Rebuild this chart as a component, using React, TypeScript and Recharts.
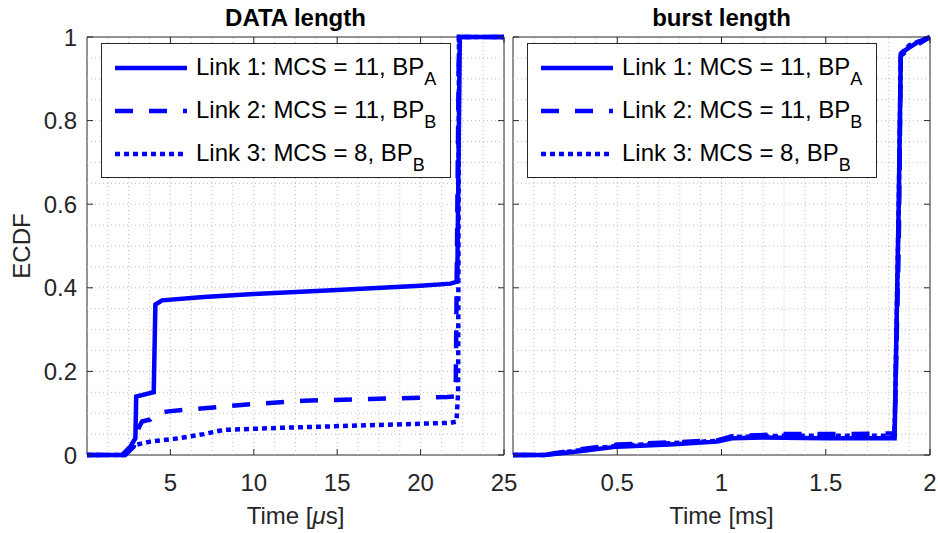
import React from 'react';
import { LineChart, Line, XAxis, YAxis, ReferenceLine, ReferenceArea, Legend } from 'recharts';

const FONT = '"Liberation Sans", Arial, Helvetica, sans-serif';
const INK = '#262626';
const BLUE = '#0000ff';
const GRID = '#bdbdbd';
const PLOT_W = 417;
const PLOT_H = 418;

// DATA length, time in µs
const dataLink1 = [
  { t: 0, p: 0 }, { t: 2.1, p: 0 }, { t: 2.6, p: 0.02 }, { t: 2.9, p: 0.04 }, { t: 2.95, p: 0.14 },
  { t: 4.0, p: 0.15 }, { t: 4.1, p: 0.36 }, { t: 4.5, p: 0.37 }, { t: 7, p: 0.378 }, { t: 10, p: 0.385 },
  { t: 15, p: 0.395 }, { t: 20, p: 0.405 }, { t: 21.8, p: 0.41 }, { t: 22.2, p: 0.415 }, { t: 22.35, p: 1 },
  { t: 25, p: 1 },
];
const dataLink2 = [
  { t: 0, p: 0 }, { t: 2.3, p: 0 }, { t: 2.8, p: 0.02 }, { t: 3.1, p: 0.065 }, { t: 3.3, p: 0.08 },
  { t: 3.8, p: 0.085 }, { t: 4.2, p: 0.1 }, { t: 5, p: 0.105 }, { t: 7, p: 0.112 }, { t: 10, p: 0.122 },
  { t: 13, p: 0.13 }, { t: 17, p: 0.134 }, { t: 21.6, p: 0.139 }, { t: 22.1, p: 0.14 }, { t: 22.3, p: 1 },
  { t: 25, p: 1 },
];
const dataLink3 = [
  { t: 0, p: 0 }, { t: 2.2, p: 0 }, { t: 2.6, p: 0.015 }, { t: 3.0, p: 0.025 }, { t: 3.8, p: 0.032 },
  { t: 5.5, p: 0.04 }, { t: 7, p: 0.05 }, { t: 8.2, p: 0.06 }, { t: 11.6, p: 0.065 }, { t: 17.6, p: 0.072 },
  { t: 21.8, p: 0.077 }, { t: 22.15, p: 0.08 }, { t: 22.25, p: 0.15 }, { t: 22.3, p: 1 }, { t: 25, p: 1 },
];

// burst length, time in ms
const burstLink1 = [
  { t: 0, p: 0 }, { t: 0.15, p: 0 }, { t: 0.3, p: 0.008 }, { t: 0.5, p: 0.02 }, { t: 0.75, p: 0.025 },
  { t: 0.98, p: 0.032 }, { t: 1.05, p: 0.04 }, { t: 1.2, p: 0.042 }, { t: 1.5, p: 0.04 }, { t: 1.83, p: 0.04 },
  { t: 1.85, p: 0.6 }, { t: 1.86, p: 0.96 }, { t: 1.9, p: 0.975 }, { t: 1.95, p: 0.99 }, { t: 2, p: 1 },
];
const burstLink2 = [
  { t: 0, p: 0 }, { t: 0.15, p: 0 }, { t: 0.3, p: 0.012 }, { t: 0.5, p: 0.025 }, { t: 0.75, p: 0.03 },
  { t: 0.98, p: 0.035 }, { t: 1.05, p: 0.045 }, { t: 1.3, p: 0.05 }, { t: 1.6, p: 0.05 }, { t: 1.83, p: 0.052 },
  { t: 1.85, p: 0.5 }, { t: 1.86, p: 0.955 }, { t: 1.9, p: 0.97 }, { t: 1.95, p: 0.985 }, { t: 2, p: 1 },
];
const burstLink3 = [
  { t: 0, p: 0 }, { t: 0.15, p: 0 }, { t: 0.3, p: 0.01 }, { t: 0.5, p: 0.022 }, { t: 0.75, p: 0.028 },
  { t: 0.98, p: 0.034 }, { t: 1.05, p: 0.043 }, { t: 1.3, p: 0.046 }, { t: 1.6, p: 0.046 }, { t: 1.83, p: 0.046 },
  { t: 1.85, p: 0.6 }, { t: 1.86, p: 0.96 }, { t: 1.9, p: 0.98 }, { t: 1.95, p: 0.99 }, { t: 2, p: 1 },
];

const dataXTicks = [5, 10, 15, 20, 25];
const burstXTicks = [0.5, 1, 1.5, 2];
const yTicks = [0, 0.2, 0.4, 0.6, 0.8, 1];

const linkNames = ['Link 1: MCS = 11, BP', 'Link 2: MCS = 11, BP', 'Link 3: MCS = 8, BP'];
const linkSubs = ['A', 'B', 'B'];
const linkDash = [undefined, '18 16', '5 4'];

const steps = (max: number, step: number) => {
  const out: number[] = [];
  for (let v = step; v < max - 1e-9; v += step) out.push(+v.toFixed(4));
  return out;
};

const XTick = (props: any) => {
  const { x, y, payload } = props;
  return (
    <g>
      <line x1={x} y1={y} x2={x} y2={y - 6} stroke={INK} />
      <line x1={x} y1={y - PLOT_H} x2={x} y2={y - PLOT_H + 6} stroke={INK} />
      <text x={x} y={y + 36} textAnchor="middle" fontSize={24} fill={INK} fontFamily={FONT}>
        {payload.value}
      </text>
    </g>
  );
};

const makeYTick = (showLabel: boolean) => (props: any) => {
  const { x, y, payload } = props;
  return (
    <g>
      <line x1={x} y1={y} x2={x + 6} y2={y} stroke={INK} />
      <line x1={x + PLOT_W} y1={y} x2={x + PLOT_W - 6} y2={y} stroke={INK} />
      {showLabel && (
        <text x={x - 10} y={y + 8.5} textAnchor="end" fontSize={24} fill={INK} fontFamily={FONT}>
          {payload.value}
        </text>
      )}
    </g>
  );
};

const XTitle = ({ viewBox, unit }: any) => (
  <text x={viewBox.x + viewBox.width / 2} y={viewBox.y + 69} textAnchor="middle" fontSize={24} fill={INK} fontFamily={FONT}>
    <tspan>Time [</tspan>
    {unit === 'us' ? (
      <>
        <tspan fontStyle="italic">μ</tspan>
        <tspan>s]</tspan>
      </>
    ) : (
      <tspan>ms]</tspan>
    )}
  </text>
);

const YTitle = ({ viewBox }: any) => (
  <text
    transform={`translate(30, ${viewBox.y + viewBox.height / 2}) rotate(-90)`}
    textAnchor="middle"
    fontSize={24}
    fill={INK}
    fontFamily={FONT}
  >
    ECDF
  </text>
);

const LegendBox = () => (
  <div
    style={{
      border: `1px solid ${INK}`,
      background: '#fff',
      width: 350,
      height: 135,
      paddingTop: 2,
      boxSizing: 'border-box',
      fontFamily: FONT,
      color: '#000',
    }}
  >
    {linkNames.map((name, i) => (
      <div key={name} style={{ display: 'flex', alignItems: 'center', height: 43 }}>
        <svg width={72} height={10} style={{ marginLeft: 13 }}>
          <line x1={0} y1={5} x2={72} y2={5} stroke={BLUE} strokeWidth={4.5} strokeDasharray={linkDash[i]} />
        </svg>
        <span style={{ marginLeft: 9, fontSize: 24, lineHeight: '28px', whiteSpace: 'nowrap' }}>
          {name}
          <span style={{ fontSize: 18, position: 'relative', top: 10 }}>{linkSubs[i]}</span>
        </span>
      </div>
    ))}
  </div>
);

interface PanelProps {
  title: string;
  unit: 'us' | 'ms';
  series: { t: number; p: number }[][];
  xMax: number;
  xTicks: number[];
  xMinorStep: number;
  left: number;
  width: number;
  yAxisWidth: number;
  marginLeft: number;
  marginRight: number;
  showYLabels: boolean;
  legendLeft: number;
}

function Panel(props: PanelProps) {
  const { title, unit, series, xMax, xTicks, xMinorStep, left, width, yAxisWidth, marginLeft, marginRight, showYLabels, legendLeft } = props;
  const plotLeft = marginLeft + yAxisWidth;
  const gridX = steps(xMax, xMinorStep);
  const gridY = steps(1, 0.05);
  return (
    <div style={{ position: 'absolute', left, top: 0, width, height: 533 }}>
      <div
        style={{
          position: 'absolute',
          left: plotLeft,
          width: PLOT_W,
          top: 4,
          textAlign: 'center',
          fontFamily: FONT,
          fontWeight: 'bold',
          fontSize: 24,
          lineHeight: '28px',
          color: '#000',
          zIndex: 2,
        }}
      >
        {title}
      </div>
      <LineChart width={width} height={533} margin={{ top: 37, right: marginRight, left: marginLeft, bottom: 38 }}>
        <XAxis
          dataKey="t"
          type="number"
          domain={[0, xMax]}
          ticks={xTicks}
          interval={0}
          allowDataOverflow
          height={40}
          axisLine={false}
          tickLine={false}
          tickSize={0}
          tickMargin={0}
          tick={<XTick />}
          label={<XTitle unit={unit} />}
        />
        <YAxis
          dataKey="p"
          type="number"
          domain={[0, 1]}
          ticks={yTicks}
          interval={0}
          width={yAxisWidth}
          axisLine={false}
          tickLine={false}
          tickSize={0}
          tickMargin={0}
          tick={makeYTick(showYLabels)}
          label={showYLabels ? <YTitle /> : undefined}
        />
        {gridX.map((v) => (
          <ReferenceLine key={`gx${v}`} x={v} stroke={GRID} strokeDasharray="1 3" />
        ))}
        {gridY.map((v) => (
          <ReferenceLine key={`gy${v}`} y={v} stroke={GRID} strokeDasharray="1 3" />
        ))}
        <ReferenceArea x1={0} x2={xMax} y1={0} y2={1} fill="none" fillOpacity={0} stroke={INK} strokeWidth={1} />
        {series.map((d, i) => (
          <Line
            key={linkNames[i]}
            data={d}
            dataKey="p"
            name={linkNames[i] + linkSubs[i]}
            type="linear"
            stroke={BLUE}
            strokeWidth={4.5}
            strokeDasharray={linkDash[i]}
            dot={false}
            activeDot={false}
            isAnimationActive={false}
          />
        ))}
        <Legend
          layout="vertical"
          align="center"
          verticalAlign="middle"
          content={<LegendBox />}
          wrapperStyle={{ left: legendLeft, top: 43, width: 350, height: 135 }}
        />
      </LineChart>
    </div>
  );
}

export default function App() {
  return (
    <div style={{ position: 'absolute', left: 0, top: 0, width: 938, height: 533, background: '#fff' }}>
      <Panel
        title="DATA length"
        unit="us"
        series={[dataLink1, dataLink2, dataLink3]}
        xMax={25}
        xTicks={dataXTicks}
        xMinorStep={1.25}
        left={0}
        width={530}
        yAxisWidth={87}
        marginLeft={0}
        marginRight={26}
        showYLabels
        legendLeft={101}
      />
      <Panel
        title="burst length"
        unit="ms"
        series={[burstLink1, burstLink2, burstLink3]}
        xMax={2}
        xTicks={burstXTicks}
        xMinorStep={0.1}
        left={508}
        width={430}
        yAxisWidth={1}
        marginLeft={4}
        marginRight={8}
        showYLabels={false}
        legendLeft={19}
      />
    </div>
  );
}
